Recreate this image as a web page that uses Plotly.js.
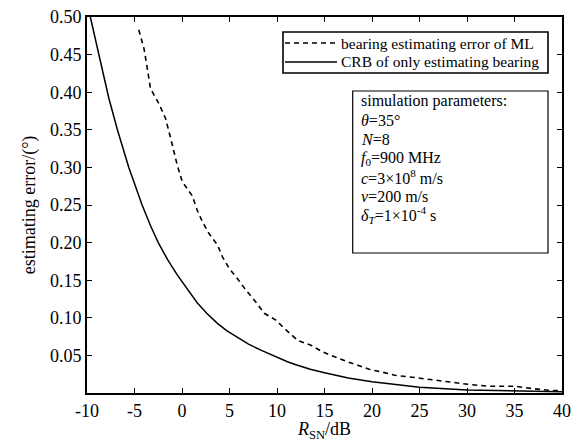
<!DOCTYPE html>
<html>
<head>
<meta charset="utf-8">
<script src="https://cdn.plot.ly/plotly-3.0.1.min.js"></script>
<style>html,body{margin:0;padding:0;background:#fff;}#chart{width:574px;height:442px;}</style>
</head>
<body>
<div id="chart"></div>
<script>
// CRB of only estimating bearing (solid)
const crbSNR = [-9.65,-9.1,-8.4,-7.7,-6.8,-5.6,-4.2,-3.3,-2.5,-1.5,-0.5,0,0.8,1.6,2.6,3.7,4.7,5.8,7,8.3,9.4,10.4,11.1,12,13.5,15,17.5,20,22.5,25,30,35,40];
const crbErr = [0.50,0.47,0.43,0.392,0.35,0.30,0.25,0.222,0.200,0.177,0.157,0.148,0.134,0.120,0.106,0.093,0.083,0.074,0.065,0.057,0.0505,0.045,0.0415,0.0375,0.0315,0.027,0.020,0.015,0.011,0.0075,0.004,0.0028,0.0015];
// bearing estimating error of ML (dashed)
const mlSNR = [-4.55,-4.0,-3.66,-3.32,-2.44,-1.73,-1.2,-0.85,-0.5,0.03,1.09,1.6,2.14,2.84,3.73,4.26,4.95,5.84,6.72,7.77,8.65,9.88,10.76,12.17,13.58,14.8,16.04,17.45,18.5,19.7,21.0,22.4,24.5,26.6,28.7,30.1,32.2,35.0,36.8,38.6,40];
const mlErr = [0.483,0.458,0.432,0.405,0.385,0.365,0.339,0.321,0.303,0.281,0.262,0.243,0.228,0.212,0.197,0.181,0.166,0.152,0.137,0.121,0.106,0.097,0.086,0.070,0.0635,0.0546,0.048,0.0413,0.0369,0.0315,0.028,0.0236,0.0205,0.017,0.0138,0.0116,0.009,0.009,0.006,0.0036,0.003];

const seriesNames = ['bearing estimating error of ML', 'CRB of only estimating bearing'];
const xTicks = [-10,-5,0,5,10,15,20,25,30,35,40];
const yTicks = [0.05,0.10,0.15,0.20,0.25,0.30,0.35,0.40,0.45,0.50];
const paramLines = [
  'simulation parameters:',
  '<i>θ</i>=35°',
  '<i>N</i>=8',
  '<i>f</i><sub>0</sub>=900 MHz',
  '<i>c</i>=3×10<sup>8</sup> m/s',
  '<i>v</i>=200 m/s',
  '<i>δ<sub>T</sub></i>=1×10<sup>-4</sup> s'
];

const FONT = 'Liberation Serif, Times New Roman, serif';
const seriesDash = ['5px,4px', 'solid'];

const traces = [
  {x: mlSNR, y: mlErr, mode: 'lines', name: seriesNames[0],
   line: {color: '#000', width: 1.6, dash: seriesDash[0]}},
  {x: crbSNR, y: crbErr, mode: 'lines', name: seriesNames[1],
   line: {color: '#000', width: 1.5, dash: seriesDash[1]}}
];

const plotTop = 17, plotH = 376, plotL = 87, plotW = 475;
const px2x = p => (p - plotL) / plotW;
const px2y = p => 1 - (p - plotTop) / plotH;

// parameter box text
const annotations = paramLines.map((t, i) => ({
  xref: 'paper', yref: 'paper',
  x: px2x(359), y: px2y(101 + i * 19),
  xanchor: 'left', yanchor: 'middle',
  text: t, showarrow: false, align: 'left',
  font: {family: FONT, size: 16, color: '#000'}
}));

// legend (drawn as a boxed key)
const legendRows = [43, 62];
const shapes = [
  {type: 'rect', xref: 'paper', yref: 'paper',
   x0: px2x(283), x1: px2x(548), y0: px2y(73), y1: px2y(32),
   line: {color: '#000', width: 1.6}, fillcolor: '#fff', layer: 'above'},
  {type: 'rect', xref: 'paper', yref: 'paper',
   x0: px2x(352.7), x1: px2x(548), y0: px2y(253), y1: px2y(91),
   line: {color: '#000', width: 1.2}, fillcolor: 'rgba(0,0,0,0)'}
];
seriesNames.forEach((name, i) => {
  shapes.push({type: 'line', xref: 'paper', yref: 'paper',
    x0: px2x(285), x1: px2x(337), y0: px2y(legendRows[i]), y1: px2y(legendRows[i]),
    line: {color: '#000', width: 1.6, dash: seriesDash[i]}, layer: 'above'});
  annotations.push({xref: 'paper', yref: 'paper',
    x: px2x(339), y: px2y(legendRows[i]), xanchor: 'left', yanchor: 'middle',
    text: name, showarrow: false,
    font: {family: FONT, size: 15.5, color: '#000'}});
});

const layout = {
  width: 574, height: 442,
  margin: {l: 87, r: 12, t: 17, b: 49},
  paper_bgcolor: '#fff', plot_bgcolor: '#fff',
  font: {family: FONT, size: 16, color: '#000'},
  showlegend: false,
  xaxis: {
    range: [-10, 40], tickvals: xTicks, ticktext: xTicks.map(String),
    ticks: 'inside', ticklen: 5, tickwidth: 1, tickcolor: '#000',
    showline: true, linecolor: '#000', linewidth: 2, mirror: 'ticks',
    showgrid: false, zeroline: false,
    tickfont: {family: FONT, size: 18, color: '#000'},
    title: {text: '<i>R</i><sub>SN</sub>/dB', font: {family: FONT, size: 18, color: '#000'}, standoff: 1}
  },
  yaxis: {
    range: [0, 0.5], tickvals: yTicks, ticktext: yTicks.map(v => v.toFixed(2)),
    ticks: 'inside', ticklen: 5, tickwidth: 1, tickcolor: '#000',
    showline: true, linecolor: '#000', linewidth: 2, mirror: 'ticks',
    showgrid: false, zeroline: false,
    tickfont: {family: FONT, size: 18, color: '#000'},
    title: {text: 'estimating error/(°)', font: {family: FONT, size: 18, color: '#000'}, standoff: 10}
  },
  shapes: shapes,
  annotations: annotations
};

Plotly.newPlot('chart', traces, layout, {displayModeBar: false, staticPlot: true});
</script>
</body>
</html>
